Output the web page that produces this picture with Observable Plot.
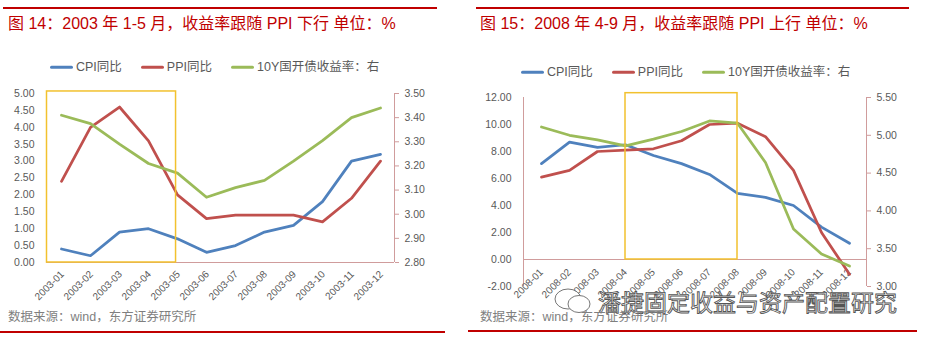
<!DOCTYPE html>
<html><head><meta charset="utf-8">
<script src="https://cdn.jsdelivr.net/npm/d3@7"></script>
<script src="https://cdn.jsdelivr.net/npm/@observablehq/plot@0.6"></script>
<style>
body{margin:0;background:#fff;}
#root{position:relative;width:926px;height:341px;overflow:hidden;font-family:"Liberation Sans","Noto Sans CJK SC",sans-serif;}
.abs{position:absolute;transform:translateY(-50%);white-space:nowrap;line-height:1;}
.title{color:#c00000;font-size:16px;}
.rule{position:absolute;height:2px;background:#c00000;}
.legend{display:flex;align-items:center;font-size:12.5px;color:#595959;}
.legend .item{display:flex;align-items:center;margin-right:19px;}
.legend .sw{width:23px;height:3px;margin-right:3px;border-radius:1.5px;}
.caption{font-size:12.5px;color:#7f7f7f;}
.wm{font-size:23px;color:#fff;-webkit-text-stroke:0.9px #555;font-family:"Noto Sans CJK SC",sans-serif;}
.plotbox{position:absolute;}
</style></head>
<body><div id="root"></div>
<script>
// ---------- data ----------
const months1 = ["2003-01","2003-02","2003-03","2003-04","2003-05","2003-06","2003-07","2003-08","2003-09","2003-10","2003-11","2003-12"];
const cpi1  = [0.4, 0.2, 0.9, 1.0, 0.7, 0.3, 0.5, 0.9, 1.1, 1.8, 3.0, 3.2];
const ppi1  = [2.4, 4.0, 4.6, 3.6, 2.0, 1.3, 1.4, 1.4, 1.4, 1.2, 1.9, 3.0];
const bond1 = [3.41, 3.375, 3.29, 3.21, 3.17, 3.07, 3.11, 3.14, 3.22, 3.305, 3.40, 3.44];
const leftTicks1  = [0, 0.5, 1, 1.5, 2, 2.5, 3, 3.5, 4, 4.5, 5];
const rightTicks1 = [2.8, 2.9, 3.0, 3.1, 3.2, 3.3, 3.4, 3.5];

const months2 = ["2008-01","2008-02","2008-03","2008-04","2008-05","2008-06","2008-07","2008-08","2008-09","2008-10","2008-11","2008-12"];
const cpi2  = [7.1, 8.7, 8.3, 8.5, 7.7, 7.1, 6.3, 4.9, 4.6, 4.0, 2.4, 1.2];
const ppi2  = [6.1, 6.6, 8.0, 8.1, 8.2, 8.8, 10.0, 10.1, 9.1, 6.6, 2.0, -1.1];
const bond2 = [5.11, 5.00, 4.94, 4.86, 4.95, 5.05, 5.19, 5.16, 4.64, 3.76, 3.43, 3.27];
const leftTicks2  = [-2, 0, 2, 4, 6, 8, 10, 12];
const rightTicks2 = [3.0, 3.5, 4.0, 4.5, 5.0, 5.5];

const seriesNames = ["CPI同比", "PPI同比", "10Y国开债收益率：右"];
const colors = ["#4f81bd", "#c0504d", "#9bbb59"];

const title1 = "图 14：2003 年 1-5 月，收益率跟随 PPI 下行 单位：%";
const title2 = "图 15：2008 年 4-9 月，收益率跟随 PPI 上行 单位：%";
const source = "数据来源：wind，东方证券研究所";
const watermark = "潘捷固定收益与资产配置研究";

// ---------- helpers ----------
const root = document.getElementById("root");
function addDiv(cls, left, top, html) {
  const d = document.createElement("div");
  d.className = cls;
  d.style.left = left + "px";
  d.style.top = top + "px";
  if (html !== undefined) d.innerHTML = html;
  root.appendChild(d);
  return d;
}
function addRule(left, top, width) {
  const d = document.createElement("div");
  d.className = "rule";
  d.style.left = left + "px"; d.style.top = top + "px"; d.style.width = width + "px";
  root.appendChild(d);
}
function legend(left, top) {
  const html = seriesNames.map((n, i) =>
    `<span class="item"><span class="sw" style="background:${colors[i]}"></span>${n}</span>`).join("");
  addDiv("abs legend", left, top, html);
}

const axisColor = "#d09c9c";
const tickFont = "'Liberation Sans','Noto Sans CJK SC',sans-serif";

function panel(cfg) {
  const {months, cpi, ppi, bond, left, right, leftTicks, rightTicks, box, leftLine} = cfg;
  const toL = r => left[0] + (r - right[0]) / (right[1] - right[0]) * (left[1] - left[0]);
  const fromL = v => right[0] + (v - left[0]) / (left[1] - left[0]) * (right[1] - right[0]);
  const rows = months.map((m, i) => ({m, cpi: cpi[i], ppi: ppi[i], bond: toL(bond[i])}));
  const boxMark = (index, scales, values, dims) => {
    const x = scales.x, y = scales.y;
    const step = x(months[1]) - x(months[0]);
    const x1 = x(box.start) + box.startOff * step;
    const x2 = x(box.end) + box.endOff * step;
    const g = d3.create("svg:g");
    g.append("rect")
      .attr("x", x1).attr("y", y(box.top))
      .attr("width", x2 - x1).attr("height", y(box.bottom) - y(box.top))
      .attr("fill", "none").attr("stroke", "#f2c12e").attr("stroke-width", 1.5);
    return g.node();
  };
  const axisLines = (index, scales, values, dims) => {
    const g = d3.create("svg:g").attr("stroke", axisColor).attr("stroke-width", 1);
    const xr = dims.width - dims.marginRight, yt = dims.marginTop, yb = dims.height - dims.marginBottom;
    if (leftLine) g.append("line").attr("x1", dims.marginLeft + 0.5).attr("x2", dims.marginLeft + 0.5).attr("y1", yt).attr("y2", yb);
    g.append("line").attr("x1", xr + 0.5).attr("x2", xr + 0.5).attr("y1", yt).attr("y2", yb);
    return g.node();
  };
  return Plot.plot({
    width: cfg.width, height: cfg.height,
    marginLeft: cfg.ml, marginRight: cfg.mr, marginTop: cfg.mt, marginBottom: cfg.mb,
    style: {background: "transparent", overflow: "visible", fontFamily: tickFont, fontSize: "10px", color: "#595959"},
    x: {type: "point", domain: months, padding: 0.5, axis: null},
    y: {domain: left, axis: null},
    marks: [
      Plot.ruleY([0], {stroke: axisColor}),
      axisLines,
      Plot.axisY({anchor: "left", ticks: leftTicks, tickFormat: d => d.toFixed(2), tickSize: 0, tickPadding: 12, fontSize: 10.5, fill: "#595959"}),
      Plot.axisY({anchor: "right", ticks: rightTicks.map(toL), tickFormat: v => fromL(v).toFixed(2), tickSize: 4, tickPadding: 6, stroke: axisColor, fontSize: 10.5, fill: "#595959"}),
      Plot.text(months, {x: d => d, y: () => 0, text: d => d, rotate: -45, textAnchor: "end", dx: cfg.ldx, dy: cfg.ldy, fontSize: 10, fill: "#595959"}),
      Plot.line(rows, {x: "m", y: "cpi", stroke: colors[0], strokeWidth: 2.75, strokeLinejoin: "round", strokeLinecap: "round"}),
      Plot.line(rows, {x: "m", y: "ppi", stroke: colors[1], strokeWidth: 2.75, strokeLinejoin: "round", strokeLinecap: "round"}),
      Plot.line(rows, {x: "m", y: "bond", stroke: colors[2], strokeWidth: 2.75, strokeLinejoin: "round", strokeLinecap: "round"}),
      boxMark
    ]
  });
}

// ---------- panel 1 ----------
addRule(3, 7, 434);
addDiv("abs title", 8, 24, title1);
legend(50, 67);
const p1 = panel({
  months: months1, cpi: cpi1, ppi: ppi1, bond: bond1,
  left: [0, 5], right: [2.8, 3.5], leftTicks: leftTicks1, rightTicks: rightTicks1,
  box: {start: "2003-01", startOff: -0.5, end: "2003-05", endOff: -0.05, top: 5.06, bottom: 0},
  leftLine: false,
  width: 460, height: 230, ml: 46, mr: 66, mt: 13, mb: 48, ldx: 1, ldy: 10
});
const w1 = document.createElement("div"); w1.className = "plotbox"; w1.style.left = "0px"; w1.style.top = "80px";
w1.appendChild(p1); root.appendChild(w1);
addDiv("abs caption", 8, 317, source);
addRule(0, 331, 445);

// ---------- panel 2 ----------
addRule(476, 7, 433);
addDiv("abs title", 480, 24, title2);
legend(521, 72);
const p2 = panel({
  months: months2, cpi: cpi2, ppi: ppi2, bond: bond2,
  left: [-2, 12], right: [3.0, 5.5], leftTicks: leftTicks2, rightTicks: rightTicks2,
  box: {start: "2008-04", startOff: 0, end: "2008-08", endOff: 0, top: 12.32, bottom: 0},
  leftLine: true,
  width: 460, height: 230, ml: 57, mr: 60, mt: 17, mb: 24, ldx: 0, ldy: 11
});
const w2 = document.createElement("div"); w2.className = "plotbox"; w2.style.left = "466px"; w2.style.top = "80px";
w2.appendChild(p2); root.appendChild(w2);
// watermark (WeChat-style bubble icon + outlined text)
addDiv("abs", 553, 301,
  `<svg width="40" height="26" style="display:block"><g fill="#fff" stroke="#777" stroke-width="1">
   <ellipse cx="15" cy="11" rx="13" ry="10"/><ellipse cx="26" cy="16" rx="11" ry="8.5"/></g></svg>`);
addDiv("abs wm", 598, 301, watermark);
addDiv("abs caption", 480, 317, source);
addRule(468, 330, 449);
</script>
</body></html>
